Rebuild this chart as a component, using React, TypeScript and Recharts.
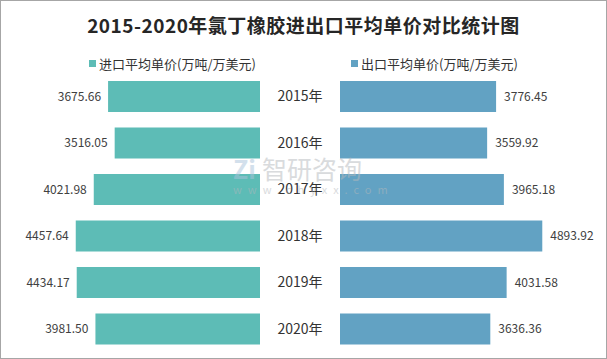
import React from 'react';
import { BarChart, Bar, XAxis, YAxis, LabelList } from 'recharts';

const years = ['2015年', '2016年', '2017年', '2018年', '2019年', '2020年'];
const importPrice = [3675.66, 3516.05, 4021.98, 4457.64, 4434.17, 3981.5];
const exportPrice = [3776.45, 3559.92, 3965.18, 4893.92, 4031.58, 3636.36];

const IMPORT_COLOR = '#5dbcb6';
const EXPORT_COLOR = '#62a2c3';
const FONT = '"Noto Sans CJK SC", "Noto Sans", sans-serif';

const data = years.map((year, i) => ({
  year,
  importPrice: importPrice[i],
  exportPrice: exportPrice[i],
}));

const fmt = (v: any) => Number(v).toFixed(2);

const LeftLabel = (props: any) => {
  const { x, y, width, height, value } = props;
  const left = Math.min(x, x + width);
  return (
    <text x={left - 7} y={y + height / 2} dy={4} textAnchor="end" fontSize={12} fill="#404040" fontFamily={FONT}>
      {fmt(value)}
    </text>
  );
};

const RightLabel = (props: any) => {
  const { x, y, width, height, value } = props;
  const right = Math.max(x, x + width);
  return (
    <text x={right + 8} y={y + height / 2} dy={4} textAnchor="start" fontSize={12} fill="#404040" fontFamily={FONT}>
      {fmt(value)}
    </text>
  );
};

const YearTick = (props: any) => {
  const { y, payload } = props;
  return (
    <text x={41} y={y} dy={5} textAnchor="middle" fontSize={14} fill="#333" fontFamily={FONT}>
      {payload.value}
    </text>
  );
};

const LegendItem = ({ color, text, left }: { color: string; text: string; left: number }) => (
  <div style={{ position: 'absolute', left, top: 53, display: 'flex', alignItems: 'center', fontSize: 13, color: '#333', fontFamily: FONT }}>
    <span style={{ width: 7, height: 7, background: color, display: 'inline-block', marginRight: 3 }} />
    <span>{text}</span>
  </div>
);

export default function App() {
  return (
    <div
      style={{
        position: 'absolute',
        left: 0,
        top: 0,
        width: 607,
        height: 359,
        boxSizing: 'border-box',
        border: '1px solid #a6a6a6',
        background: '#fff',
        overflow: 'hidden',
      }}
    >
      <div
        style={{
          position: 'absolute',
          left: 0,
          top: 10,
          width: 605,
          textAlign: 'center',
          fontSize: 19,
          letterSpacing: 0.5,
          fontWeight: 'bold',
          color: '#262626',
          fontFamily: FONT,
        }}
      >
        2015-2020年氯丁橡胶进出口平均单价对比统计图
      </div>

      <LegendItem color={IMPORT_COLOR} text="进口平均单价(万吨/万美元)" left={88} />
      <LegendItem color={EXPORT_COLOR} text="出口平均单价(万吨/万美元)" left={350} />

      {/* import side, bars grow to the left */}
      <div style={{ position: 'absolute', left: -1, top: 72 }}>
        <BarChart width={260} height={279} data={data} layout="vertical" margin={{ top: 0, right: 0, bottom: 0, left: 12 }}>
          <XAxis type="number" domain={[0, 6000]} reversed hide />
          <YAxis type="category" dataKey="year" hide />
          <Bar dataKey="importPrice" fill={IMPORT_COLOR} barSize={31} isAnimationActive={false}>
            <LabelList dataKey="importPrice" content={<LeftLabel />} />
          </Bar>
        </BarChart>
      </div>

      {/* export side with the year labels in the middle */}
      <div style={{ position: 'absolute', left: 258, top: 72 }}>
        <BarChart width={348} height={279} data={data} layout="vertical" margin={{ top: 0, right: 19, bottom: 0, left: 0 }}>
          <XAxis type="number" domain={[0, 6000]} hide />
          <YAxis type="category" dataKey="year" width={81} axisLine={false} tickLine={false} tick={<YearTick />} />
          <Bar dataKey="exportPrice" fill={EXPORT_COLOR} barSize={31} isAnimationActive={false}>
            <LabelList dataKey="exportPrice" content={<RightLabel />} />
          </Bar>
        </BarChart>
      </div>

      {/* watermark */}
      <div style={{ position: 'absolute', left: 232, top: 152, color: '#b4b8bc', opacity: 0.5, fontFamily: FONT, pointerEvents: 'none' }}>
        <div style={{ fontSize: 25, lineHeight: '30px', whiteSpace: 'nowrap' }}>
          <span style={{ color: '#a9c3da', fontWeight: 'bold', marginRight: 6 }}>Zi</span>智研咨询
        </div>
        <div style={{ fontSize: 11, letterSpacing: 6, lineHeight: '12px', marginTop: 0, whiteSpace: 'nowrap' }}>www.chyxx.com</div>
      </div>
    </div>
  );
}
